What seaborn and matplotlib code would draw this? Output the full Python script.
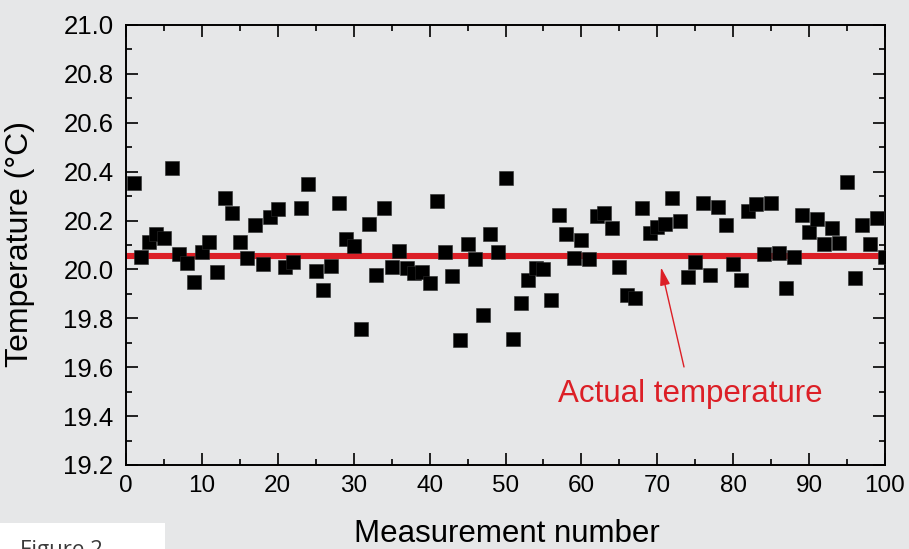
import numpy as np
import pandas as pd
import matplotlib.pyplot as plt
import matplotlib.patches as mpatches
from matplotlib.ticker import MultipleLocator
import seaborn as sns

measurement = list(range(1, 101))
temperature = [
    20.355, 20.050, 20.111, 20.144, 20.130, 20.416, 20.062, 20.028, 19.948, 20.071,
    20.112, 19.988, 20.293, 20.232, 20.113, 20.045, 20.183, 20.021, 20.216, 20.246,
    20.011, 20.029, 20.250, 20.351, 19.992, 19.916, 20.014, 20.273, 20.123, 20.096,
    19.756, 20.184, 19.977, 20.250, 20.010, 20.075, 20.007, 19.984, 19.988, 19.946,
    20.280, 20.072, 19.973, 19.711, 20.103, 20.041, 19.813, 20.144, 20.071, 20.373,
    19.714, 19.861, 19.955, 20.007, 20.000, 19.874, 20.221, 20.144, 20.048, 20.119,
    20.044, 20.217, 20.232, 20.171, 20.009, 19.897, 19.883, 20.252, 20.149, 20.172,
    20.186, 20.291, 20.200, 19.969, 20.030, 20.272, 19.977, 20.257, 20.180, 20.021,
    19.957, 20.239, 20.266, 20.064, 20.273, 20.066, 19.925, 20.052, 20.223, 20.154,
    20.205, 20.103, 20.168, 20.108, 20.358, 19.966, 20.181, 20.103, 20.212, 20.052,
]
actual_temp = 20.056
x_range = [0, 100]

df = pd.DataFrame({"Measurement number": measurement, "Temperature": temperature})

bg = "#e6e7e8"
red = "#dc1f26"

sns.set_theme(style="ticks")
plt.rcParams["font.family"] = ["Liberation Sans", "DejaVu Sans"]

fig = plt.figure(figsize=(9.09, 5.49), dpi=100, facecolor=bg)
ax = fig.add_axes([126 / 909, 1 - 465 / 549, 759 / 909, 440 / 549])
ax.set_facecolor(bg)

# actual temperature line (behind the points)
sns.lineplot(x=x_range, y=[actual_temp, actual_temp], ax=ax, color=red, lw=4.4, zorder=1)

sns.scatterplot(data=df, x="Measurement number", y="Temperature", ax=ax,
                marker="s", s=100, color="black", edgecolor="#2a2a2a", linewidth=0.4,
                zorder=3)

ax.set_xlim(0, 100)
ax.set_ylim(19.2, 21.0)
ax.xaxis.set_major_locator(MultipleLocator(10))
ax.xaxis.set_minor_locator(MultipleLocator(5))
ax.yaxis.set_major_locator(MultipleLocator(0.2))
ax.yaxis.set_minor_locator(MultipleLocator(0.1))
ax.yaxis.set_major_formatter(plt.FormatStrFormatter("%.1f"))

for sp in ax.spines.values():
    sp.set_visible(True)
    sp.set_linewidth(1.4)
    sp.set_color("black")

ax.tick_params(which="both", direction="in", top=True, right=True,
               color="black", width=1.2)
ax.tick_params(which="major", length=8.3)
ax.tick_params(which="minor", length=4.3)
ax.tick_params(axis="y", labelsize=18.5, pad=9.0, labelcolor="black")
ax.tick_params(axis="x", labelsize=17.5, pad=7.5, labelcolor="black")

ax.set_xlabel("Measurement number", fontsize=22.5, color="black")
ax.xaxis.label.set_va("baseline")
ax.xaxis.set_label_coords(0.502, -0.175)
ax.set_ylabel("Temperature (°C)", fontsize=23, color="black")
ax.yaxis.label.set_va("center")
ax.yaxis.set_label_coords(-0.1397, 0.502)

# annotation
ax.annotate("", xy=(70.4, 20.02), xytext=(73.6, 19.59),
            arrowprops=dict(arrowstyle="-|>,head_length=0.9,head_width=0.25",
                            mutation_scale=12, color=red, lw=1.0))
ax.text(74.3, 19.49, "Actual temperature", color=red, fontsize=22.5,
        ha="center", va="center")

# caption box at the bottom left (cut by the lower edge, as in the source)
fig.patches.append(mpatches.Rectangle((0, 0), 165 / 909, 26 / 549,
                                      transform=fig.transFigure, facecolor="white",
                                      edgecolor="none", zorder=5))
fig.text(20 / 909, -7 / 549, "Figure 2", fontsize=16, color="#3a3a3a",
         family=["Open Sans", "DejaVu Sans"], va="baseline", zorder=6)

fig.savefig("out.png", dpi=100, facecolor=bg)
